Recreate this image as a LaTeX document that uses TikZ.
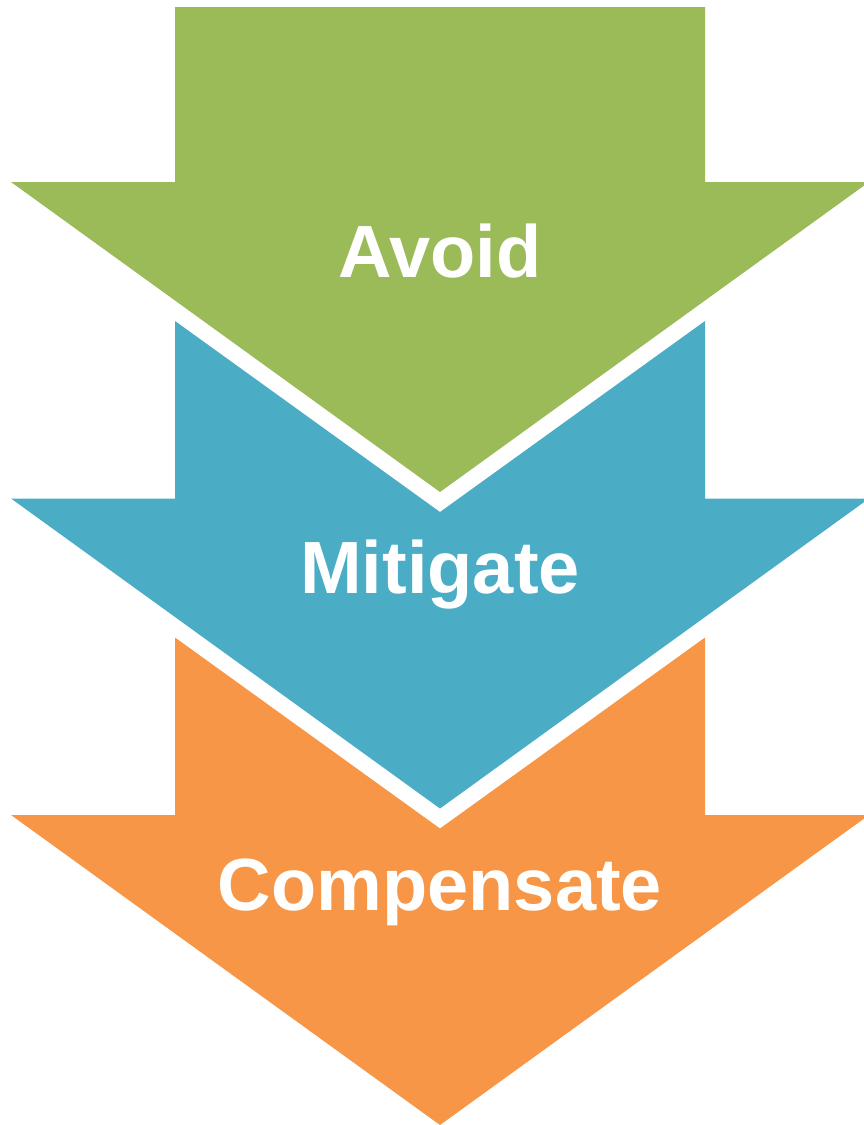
\documentclass[tikz,border=0pt]{standalone}
\usepackage{fontspec}
\setmainfont{Liberation Sans}
\definecolor{agreen}{HTML}{9BBB59}
\definecolor{ablue}{HTML}{4BACC6}
\definecolor{aorange}{HTML}{F79646}
\tikzset{
  lbl/.style={text=white, font=\fontsize{74}{88}\selectfont\bfseries, anchor=base, inner sep=0pt}
}
\begin{document}
\begin{tikzpicture}[x=1pt,y=-1pt]
\useasboundingbox (0,0) rectangle (863,1125);
% green arrow
\fill[agreen] (175,7) -- (705,7) -- (705,182) -- (869,182) -- (440,492) -- (11,182) -- (175,182) -- cycle;
% blue arrow
\begin{scope}[yshift=-316.5pt]
\fill[ablue] (175,4.5) -- (440,195.5) -- (705,4.5) -- (705,182) -- (869,182) -- (440,492) -- (11,182) -- (175,182) -- cycle;
\end{scope}
% orange arrow
\begin{scope}[yshift=-633pt]
\fill[aorange] (175,4.5) -- (440,195.5) -- (705,4.5) -- (705,182) -- (869,182) -- (440,492) -- (11,182) -- (175,182) -- cycle;
\end{scope}
\node[lbl] (avoid) at (440,277) {Avoid};
\node[lbl] (mitigate) at (440,593.5) {Mitigate};
\node[lbl] (compensate) at (440,910) {Compensate};
\end{tikzpicture}
\end{document}
